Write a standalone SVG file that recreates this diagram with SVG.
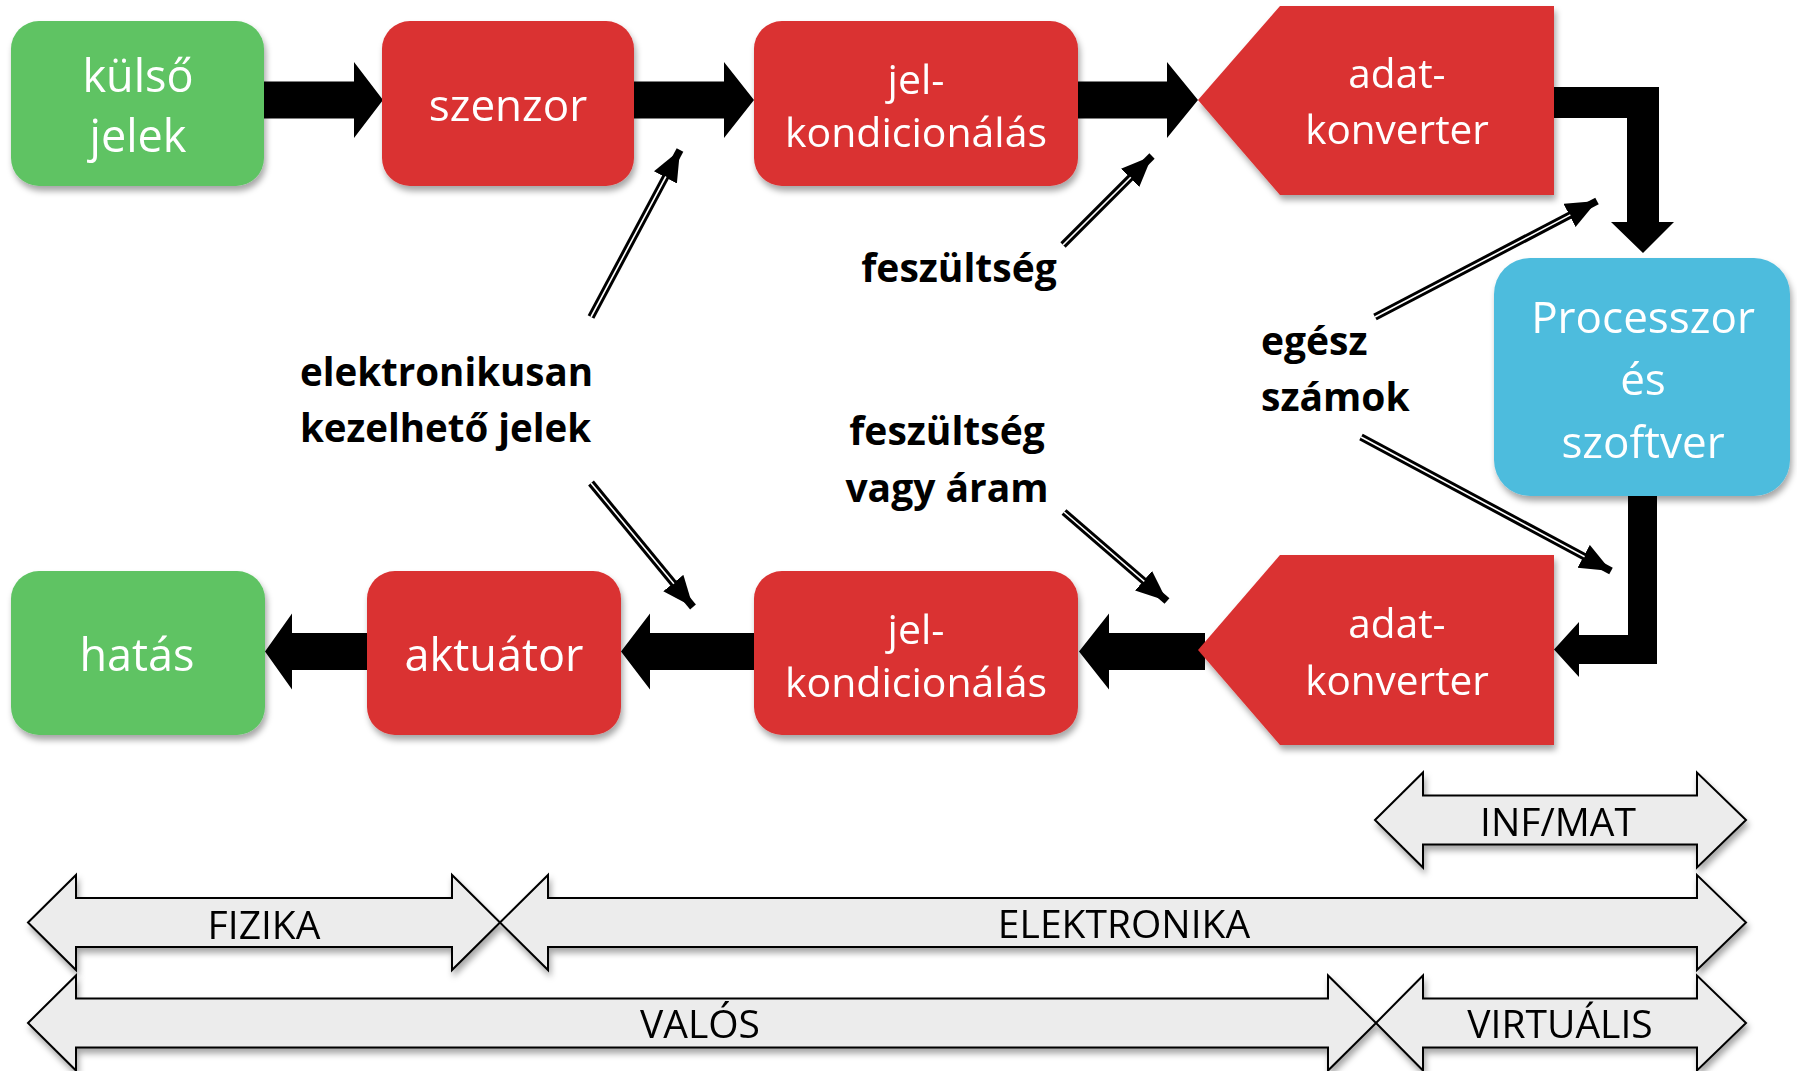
<svg xmlns="http://www.w3.org/2000/svg" width="1797" height="1071" viewBox="0 0 1797 1071">
<defs>
<filter id="sh" x="-10%" y="-10%" width="130%" height="140%">
<feDropShadow dx="2" dy="5" stdDeviation="3" flood-color="#000" flood-opacity="0.35"/>
</filter>
<marker id="ah" markerUnits="userSpaceOnUse" markerWidth="34" markerHeight="28" refX="31" refY="13" orient="auto">
<path d="M0,0 L31,13 L0,26 z" fill="#000"/>
</marker>
<style>
.g{fill:#5ec363}
.r{fill:#da3131}
.b{fill:#4dbcdd}
.bt{font-family:"Open Sans","Noto Sans",sans-serif;fill:#fff;text-anchor:middle}
.lb{font-family:"Open Sans","Noto Sans",sans-serif;font-weight:bold;fill:#000;font-size:39px}
.rt{font-family:"Open Sans","Noto Sans",sans-serif;fill:#000;font-size:39px;text-anchor:middle}
.ra{fill:#ececec;stroke:#000;stroke-width:2;stroke-linejoin:miter}
.blk{fill:#000}
.tl{stroke:#000;stroke-width:7.5;fill:none}
.tw{stroke:#fff;stroke-width:1.6;fill:none}
</style>
</defs>
<rect width="1797" height="1071" fill="#fff"/>

<g id="connectors">
<polygon class="blk" points="262,81.5 354,81.5 354,62 383,100 354,138 354,118.5 262,118.5"/>
<polygon class="blk" points="632,81.5 724,81.5 724,62 754,100 724,138 724,118.5 632,118.5"/>
<polygon class="blk" points="1076,81.5 1167,81.5 1167,62 1198,100 1167,138 1167,118.5 1076,118.5"/>
<polygon class="blk" points="1550,87 1659,87 1659,222 1674,222 1643,253 1611,222 1627,222 1627,118 1550,118"/>
<polygon class="blk" points="1628,494 1657,494 1657,664 1579,664 1579,677 1554,649.5 1579,622 1579,635 1628,635"/>
<polygon class="blk" points="1205,633 1109,633 1109,613.5 1079,651.5 1109,689.5 1109,670 1205,670"/>
<polygon class="blk" points="756,633 650,633 650,613.5 621,651.5 650,689.5 650,670 756,670"/>
<polygon class="blk" points="369,633 292,633 292,613.5 265,651.5 292,689.5 292,670 369,670"/>
<g id="thin-arrows">
<line class="tl" x1="591" y1="317" x2="680" y2="150" marker-end="url(#ah)"/>
<line class="tw" x1="591" y1="317" x2="665.9" y2="176.5"/>
<line class="tl" x1="591" y1="483" x2="693" y2="607" marker-end="url(#ah)"/>
<line class="tw" x1="591" y1="483" x2="673.9" y2="583.8"/>
<line class="tl" x1="1063" y1="245" x2="1152" y2="156" marker-end="url(#ah)"/>
<line class="tw" x1="1063" y1="245" x2="1130.8" y2="177.2"/>
<line class="tl" x1="1064" y1="512" x2="1167" y2="601" marker-end="url(#ah)"/>
<line class="tw" x1="1064" y1="512" x2="1144.3" y2="581.4"/>
<line class="tl" x1="1375" y1="317" x2="1597" y2="201" marker-end="url(#ah)"/>
<line class="tw" x1="1375" y1="317" x2="1570.4" y2="214.9"/>
<line class="tl" x1="1361" y1="437" x2="1611" y2="571" marker-end="url(#ah)"/>
<line class="tw" x1="1361" y1="437" x2="1584.6" y2="556.8"/>
</g>
</g>

<g id="n-kulso" filter="url(#sh)">
<rect class="g" x="11" y="21" width="253" height="165" rx="28"/>
<text class="bt" font-size="45" x="138" y="92">külső</text>
<text class="bt" font-size="45" x="138" y="152">jelek</text>
</g>
<g id="n-szenzor" filter="url(#sh)">
<rect class="r" x="382" y="21" width="252" height="165" rx="28"/>
<text class="bt" font-size="44" x="508" y="121">szenzor</text>
</g>
<g id="n-jelkond-top" filter="url(#sh)">
<rect class="r" x="754" y="21" width="324" height="165" rx="28"/>
<text class="bt" font-size="41" x="916" y="94">jel-</text>
<text class="bt" font-size="41" x="916" y="147">kondicionálás</text>
</g>
<g id="n-adat-top" filter="url(#sh)">
<polygon class="r" points="1198,100 1280,6 1554,6 1554,195 1280,195"/>
<text class="bt" font-size="40.5" x="1397" y="88">adat-</text>
<text class="bt" font-size="40.5" x="1397" y="144">konverter</text>
</g>
<g id="n-processzor" filter="url(#sh)">
<rect class="b" x="1494" y="258" width="296" height="238" rx="36"/>
<text class="bt" font-size="44" x="1643" y="333">Processzor</text>
<text class="bt" font-size="44" x="1643" y="395">és</text>
<text class="bt" font-size="44" x="1643" y="458">szoftver</text>
</g>
<g id="n-hatas" filter="url(#sh)">
<rect class="g" x="11" y="571" width="254" height="164" rx="28"/>
<text class="bt" font-size="45" x="137" y="671">hatás</text>
</g>
<g id="n-aktuator" filter="url(#sh)">
<rect class="r" x="367" y="571" width="254" height="164" rx="28"/>
<text class="bt" font-size="45" x="494" y="671">aktuátor</text>
</g>
<g id="n-jelkond-bottom" filter="url(#sh)">
<rect class="r" x="754" y="571" width="324" height="164" rx="28"/>
<text class="bt" font-size="41" x="916" y="644">jel-</text>
<text class="bt" font-size="41" x="916" y="697">kondicionálás</text>
</g>
<g id="n-adat-bottom" filter="url(#sh)">
<polygon class="r" points="1198,650 1280,555 1554,555 1554,745 1280,745"/>
<text class="bt" font-size="40.5" x="1397" y="638">adat-</text>
<text class="bt" font-size="40.5" x="1397" y="695">konverter</text>
</g>

<g id="labels">
<text class="lb" x="959" y="282" text-anchor="middle">feszültség</text>
<text class="lb" x="300" y="386" textLength="293" lengthAdjust="spacingAndGlyphs">elektronikusan</text>
<text class="lb" x="300" y="442" textLength="291" lengthAdjust="spacingAndGlyphs">kezelhető jelek</text>
<text class="lb" x="947" y="445" text-anchor="middle">feszültség</text>
<text class="lb" x="947" y="502" text-anchor="middle">vagy áram</text>
<text class="lb" x="1261" y="355">egész</text>
<text class="lb" x="1261" y="411">számok</text>
</g>

<g id="ranges">
<g id="r-infmat" filter="url(#sh)">
<polygon class="ra" points="1375,820 1423,772.5 1423,795.5 1697,795.5 1697,772.5 1746,820 1697,867.5 1697,844.5 1423,844.5 1423,867.5"/>
<text class="rt" x="1558" y="836">INF/MAT</text>
</g>
<g id="r-fizika" filter="url(#sh)">
<polygon class="ra" points="28,922.5 76,875 76,898 452,898 452,875 500,922.5 452,970 452,947 76,947 76,970"/>
<text class="rt" x="264" y="939">FIZIKA</text>
</g>
<g id="r-elektronika" filter="url(#sh)">
<polygon class="ra" points="500,922.5 548,875 548,898 1697,898 1697,875 1746,922.5 1697,970 1697,947 548,947 548,970"/>
<text class="rt" x="1124" y="938">ELEKTRONIKA</text>
</g>
<g id="r-valos" filter="url(#sh)">
<polygon class="ra" points="28,1023 76,975.5 76,998.5 1328,998.5 1328,975.5 1376,1023 1328,1070.5 1328,1047.5 76,1047.5 76,1070.5"/>
<text class="rt" x="700" y="1038">VALÓS</text>
</g>
<g id="r-virtualis" filter="url(#sh)">
<polygon class="ra" points="1376,1023 1423,975.5 1423,998.5 1697,998.5 1697,975.5 1746,1023 1697,1070.5 1697,1047.5 1423,1047.5 1423,1070.5"/>
<text class="rt" x="1560" y="1038">VIRTUÁLIS</text>
</g>
</g>
</svg>
